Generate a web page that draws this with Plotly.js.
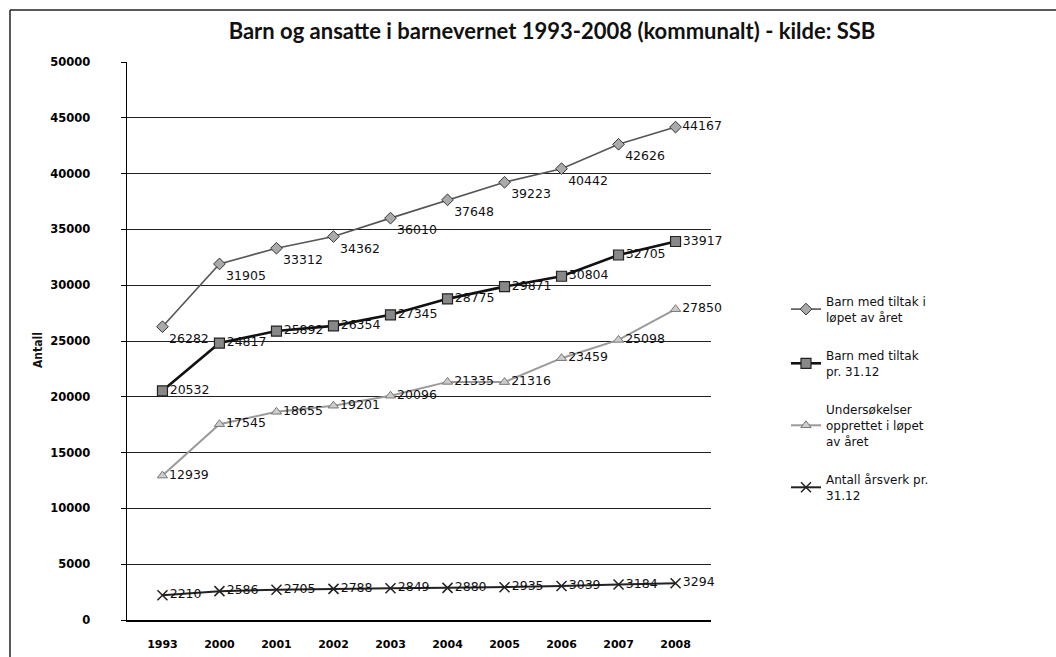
<!DOCTYPE html>
<html>
<head>
<meta charset="utf-8">
<script src="https://cdn.plot.ly/plotly-3.0.1.min.js"></script>
<style>
  html, body { margin: 0; padding: 0; background: #fff; }
  #chart { width: 1056px; height: 657px; }
</style>
</head>
<body>
<div id="chart"></div>
<script>
const years = ["1993", "2000", "2001", "2002", "2003", "2004", "2005", "2006", "2007", "2008"];
const barnLopet = [26282, 31905, 33312, 34362, 36010, 37648, 39223, 40442, 42626, 44167];
const barnPr3112 = [20532, 24817, 25892, 26354, 27345, 28775, 29871, 30804, 32705, 33917];
const undersokelser = [12939, 17545, 18655, 19201, 20096, 21335, 21316, 23459, 25098, 27850];
const arsverk = [2210, 2586, 2705, 2788, 2849, 2880, 2935, 3039, 3184, 3294];
const seriesNames = [
  "Barn med tiltak i<br>løpet av året",
  "Barn med tiltak<br>pr. 31.12",
  "Undersøkelser<br>opprettet i løpet<br>av året",
  "Antall årsverk pr.<br>31.12"
];

const labelFont = {family: "DejaVu Sans, Verdana, sans-serif", size: 12.5, color: "#111"};
function pos(n, def, last) {
  const a = [];
  for (let i = 0; i < n; i++) a.push(i === n - 1 ? last : def);
  return a;
}
function fmt(arr) { return arr.map(v => String(v)); }

const traces = [
  {
    x: years, y: barnLopet, name: seriesNames[0], legendgroup: "a",
    type: "scatter", mode: "lines+markers+text", cliponaxis: false,
    text: fmt(barnLopet), textposition: pos(10, "bottom right", "middle right"),
    textfont: labelFont,
    line: {color: "#555", width: 1.6},
    marker: {symbol: "diamond", size: 9, color: "#aaa", line: {color: "#333", width: 1}}
  },
  {
    x: years, y: barnPr3112, name: seriesNames[1], legendgroup: "b",
    type: "scatter", mode: "lines+markers+text", cliponaxis: false,
    text: fmt(barnPr3112), textposition: pos(10, "middle right", "middle right"),
    textfont: labelFont,
    line: {color: "#111", width: 2.6},
    marker: {symbol: "square", size: 10, color: "#888", line: {color: "#222", width: 1.2}}
  },
  {
    x: years, y: undersokelser, name: seriesNames[2], legendgroup: "c",
    type: "scatter", mode: "lines+markers+text", cliponaxis: false,
    text: fmt(undersokelser), textposition: pos(10, "middle right", "middle right"),
    textfont: labelFont,
    line: {color: "#9a9a9a", width: 2},
    marker: {symbol: "triangle-up", size: 9, color: "#ccc", line: {color: "#777", width: 1}}
  },
  {
    x: years, y: arsverk, name: seriesNames[3], legendgroup: "d",
    type: "scatter", mode: "lines+markers+text", cliponaxis: false,
    text: fmt(arsverk), textposition: pos(10, "middle right", "middle right"),
    textfont: labelFont,
    line: {color: "#222", width: 2},
    marker: {symbol: "x-thin-open", size: 10, color: "#222", line: {color: "#222", width: 1.5}}
  }
];

const plotL = 127, plotR = 711, plotT = 62, plotB = 620;
const pw = plotR - plotL, ph = plotB - plotT;
const px = v => (v - plotL) / pw;
const py = v => (plotB - v) / ph;

const layout = {
  width: 1056, height: 657,
  paper_bgcolor: "#fff", plot_bgcolor: "#fff",
  margin: {l: plotL, r: 1056 - plotR, t: plotT, b: 657 - plotB, pad: 0},
  title: {
    text: "<b>Barn og ansatte i barnevernet 1993-2008 (kommunalt) - kilde: SSB</b>",
    font: {family: "Lato, 'Open Sans', sans-serif", size: 22, color: "#111"},
    x: 552 / 1056, xref: "container", xanchor: "center",
    y: 1 - 31 / 657, yref: "container", yanchor: "middle"
  },
  showlegend: true,
  legend: {
    x: px(786), xanchor: "left", y: py(287), yanchor: "top",
    traceorder: "grouped", tracegroupgap: 20,
    font: {family: "DejaVu Sans, Verdana, sans-serif", size: 12, color: "#111"},
    bgcolor: "rgba(0,0,0,0)", itemwidth: 30
  },
  xaxis: {
    type: "category", categoryorder: "array", categoryarray: years,
    showgrid: false, showline: true, linecolor: "#000", linewidth: 1.5,
    ticks: "", tickfont: {family: "DejaVu Sans, Verdana, sans-serif", size: 11, color: "#000", weight: "bold"},
    zeroline: false, fixedrange: true, ticklabelstandoff: 13
  },
  yaxis: {
    range: [0, 50000], dtick: 5000, tick0: 0, tickformat: "d",
    showgrid: true, gridcolor: "#222", gridwidth: 1,
    showline: true, linecolor: "#000", linewidth: 1.5,
    ticks: "outside", ticklen: 5, tickcolor: "#000",
    tickfont: {family: "DejaVu Sans, Verdana, sans-serif", size: 11.5, color: "#000", weight: "bold"},
    zeroline: false, fixedrange: true, ticklabelstandoff: 28
  },
  annotations: [{
    text: "<b>Antall</b>", textangle: -90,
    xref: "paper", yref: "paper", x: px(38), y: py(350),
    xanchor: "center", yanchor: "middle", showarrow: false,
    font: {family: "'Liberation Sans Narrow', 'DejaVu Sans Condensed', sans-serif", size: 12, color: "#111"}
  }],
  shapes: [
    {type: "line", xref: "paper", yref: "paper", x0: px(10), x1: px(1056), y0: py(10), y1: py(10),
     line: {color: "#222", width: 1.5}},
    {type: "line", xref: "paper", yref: "paper", x0: px(10), x1: px(10), y0: py(10), y1: py(657),
     line: {color: "#222", width: 1.5}}
  ]
};

Plotly.newPlot("chart", traces, layout, {displayModeBar: false, staticPlot: true});
</script>
</body>
</html>
